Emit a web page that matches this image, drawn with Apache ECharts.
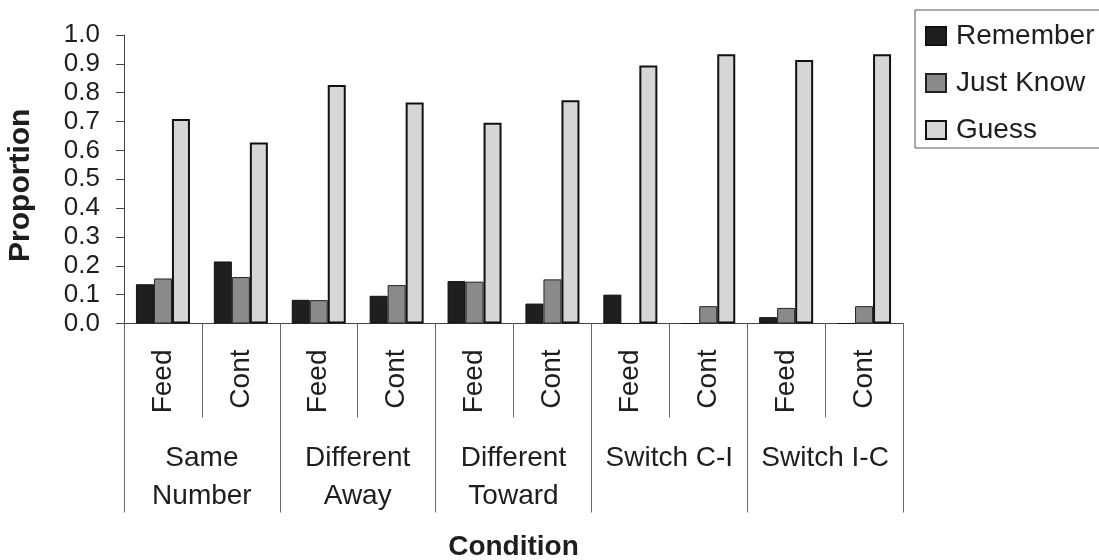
<!DOCTYPE html>
<html>
<head>
<meta charset="utf-8">
<script src="https://cdn.jsdelivr.net/npm/echarts@6/dist/echarts.min.js"></script>
<style>
html,body{margin:0;padding:0;background:#fff;}
#chart{width:1099px;height:560px;}
</style>
</head>
<body>
<div id="chart"></div>
<script>
var conditions = ['Feed','Cont','Feed','Cont','Feed','Cont','Feed','Cont','Feed','Cont'];
var groups = ['Same\nNumber','Different\nAway','Different\nToward','Switch C-I','Switch I-C'];
var seriesNames = ['Remember','Just Know','Guess'];
var remember = [0.136, 0.215, 0.082, 0.096, 0.147, 0.069, 0.100, 0, 0.022, 0];
var justKnow = [0.156, 0.161, 0.081, 0.133, 0.145, 0.153, 0, 0.060, 0.054, 0.060];
var guess    = [0.709, 0.627, 0.827, 0.766, 0.696, 0.774, 0.894, 0.933, 0.913, 0.933];
var yTicks = ['0.0','0.1','0.2','0.3','0.4','0.5','0.6','0.7','0.8','0.9','1.0'];

var FONT = '"Liberation Sans", Arial, sans-serif';
var TXT = '#1e1e1e';
var chart = echarts.init(document.getElementById('chart'), null, {renderer:'canvas'});
chart.setOption({
  backgroundColor:'#ffffff',
  animation:false,
  textStyle:{fontFamily:FONT, color:TXT},
  grid:{left:124, right:196, top:35, bottom:236.5, containLabel:false, outerBoundsMode:'none'},
  legend:{
    orient:'vertical', left:915, top:10,
    padding:[12, 40, 4, 10],
    icon:'rect',
    itemWidth:20, itemHeight:18, itemGap:19,
    borderColor:'#555', borderWidth:1,
    textStyle:{fontFamily:FONT, fontSize:28, color:TXT, lineHeight:28, padding:[0,0,0,5]},
    data:seriesNames
  },
  xAxis:[{
    type:'category', data:conditions, position:'bottom',
    axisLine:{show:true, lineStyle:{color:'#444', width:1}},
    axisTick:{show:true, interval:0, length:94, lineStyle:{color:'#666', width:1}},
    axisLabel:{interval:0, rotate:90, margin:26, fontSize:28, color:TXT, fontFamily:FONT}
  },{
    type:'category', data:groups, position:'bottom',
    axisLine:{show:false},
    axisTick:{show:true, interval:0, length:189, lineStyle:{color:'#666', width:1}},
    axisLabel:{interval:0, margin:116, fontSize:28, lineHeight:38, color:TXT, fontFamily:FONT},
    name:'Condition', nameLocation:'middle', nameGap:210,
    nameTextStyle:{fontSize:28, fontWeight:'bold', color:TXT, fontFamily:FONT, verticalAlign:'top'}
  }],
  yAxis:{
    type:'value', min:0, max:1, interval:0.1,
    axisLine:{show:true, lineStyle:{color:'#444', width:1}},
    axisTick:{show:true, inside:false, length:8, lineStyle:{color:'#444'}},
    splitLine:{show:false},
    axisLabel:{margin:24, fontSize:26, color:TXT, fontFamily:FONT,
      formatter:function(v){ return yTicks[Math.round(v*10)]; }},
    name:'Proportion', nameLocation:'middle', nameGap:88,
    nameTextStyle:{fontSize:30, fontWeight:'bold', color:TXT, fontFamily:FONT, padding:[0,12,0,0]}
  },
  series:[
    {name:seriesNames[0], type:'bar', data:remember, barWidth:18, barGap:'0%',
     itemStyle:{color:'#1f1f1f', borderColor:'#111', borderWidth:1}},
    {name:seriesNames[1], type:'bar', data:justKnow, barWidth:18, barGap:'0%',
     itemStyle:{color:'#8a8a8a', borderColor:'#222', borderWidth:1}},
    {name:seriesNames[2], type:'bar', data:guess, barWidth:18, barGap:'0%',
     itemStyle:{color:'#d6d6d6', borderColor:'#111', borderWidth:2}}
  ]
});
</script>
</body>
</html>
